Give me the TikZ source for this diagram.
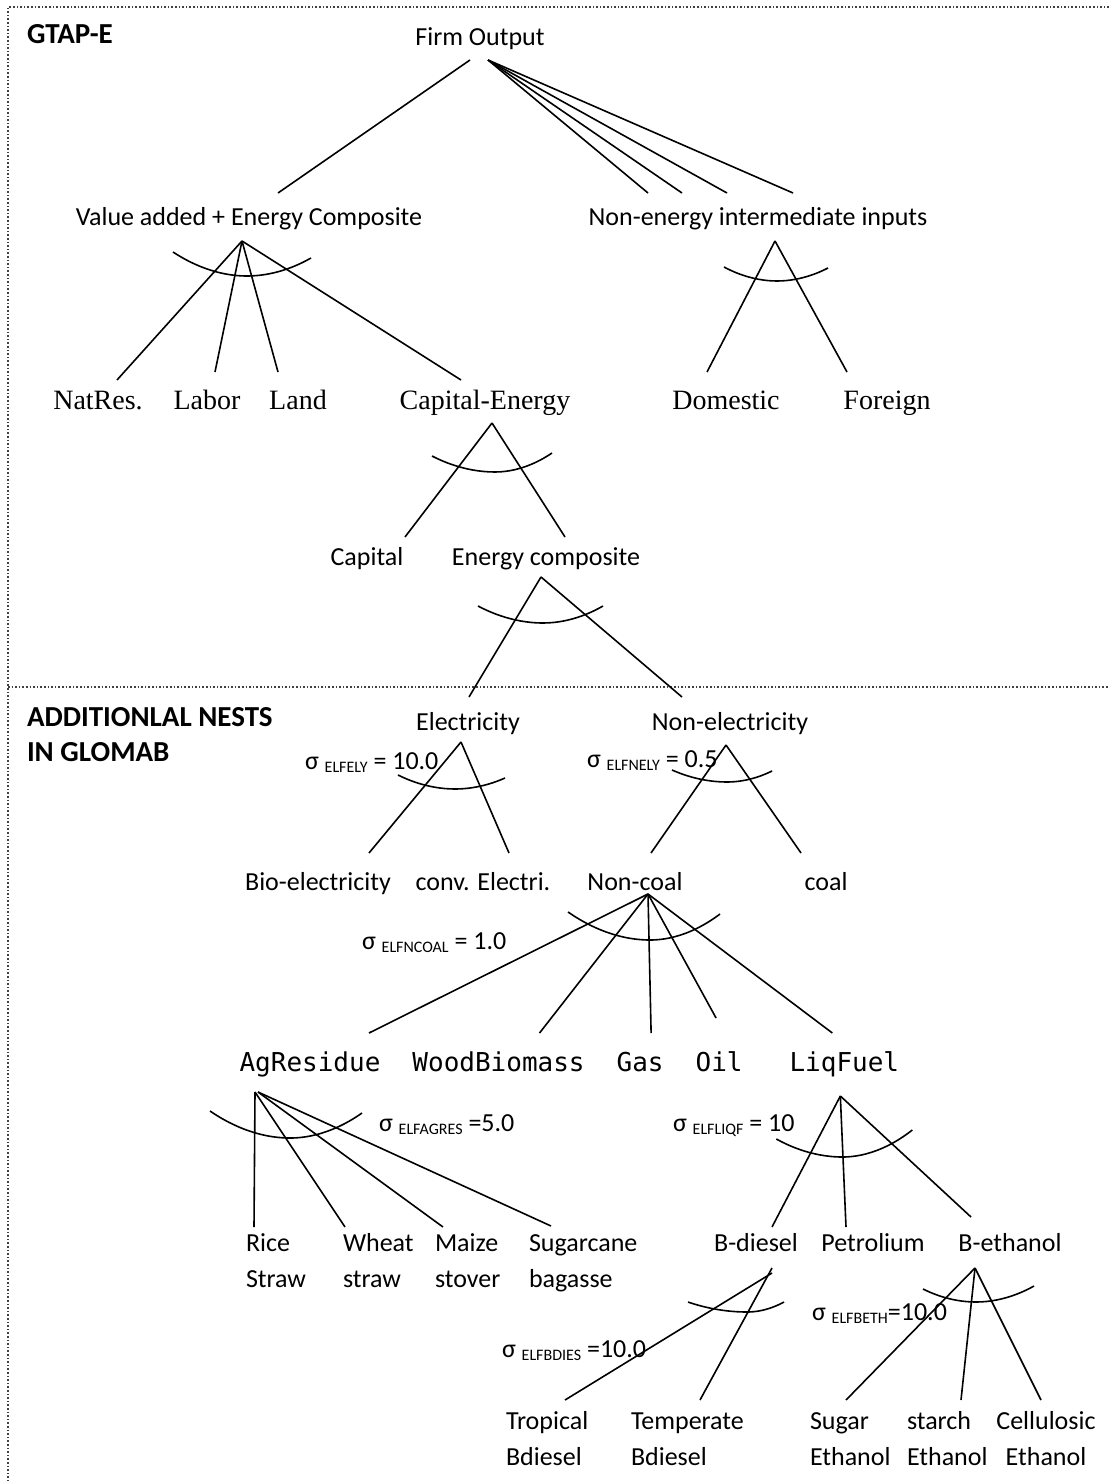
\documentclass[tikz,border=0pt]{standalone}
\usepackage{fontspec}
\setmainfont{Carlito}
\newfontfamily\timesfont{Liberation Serif}
\newfontfamily\codefont{DejaVu Sans Mono}
\usepackage{tikz}
\usetikzlibrary{calc,positioning}
\newcommand\elsub[1]{\raisebox{-0.3ex}{\fontsize{8}{8}\selectfont #1}}

\begin{document}
\begin{tikzpicture}[x=0.5pt, y=-0.5pt,
  every node/.style={inner sep=0pt, outer sep=0pt},
  lbl/.style={anchor=base, font=\fontsize{13}{18}\selectfont},
  pair/.style={anchor=base west, align=left, font=\fontsize{13}{18}\selectfont},
  tms/.style={anchor=base, font=\timesfont\fontsize{14}{16}\selectfont},
  code/.style={anchor=base, font=\codefont\fontsize{13}{16}\selectfont},
  head/.style={anchor=base west, align=left, font=\bfseries\fontsize{14.5}{17.5}\selectfont},
  sig/.style={anchor=base west, font=\fontsize{13}{16}\selectfont},
  ln/.style={line width=0.8pt},
  frame/.style={densely dotted, line width=0.8pt, black!75}]

  \useasboundingbox (0,0) rectangle (1109,1481);
  \draw[frame] (1109,7) -- (8,7) -- (8,1481);
  \draw[frame] (8,687) -- (1109,687);

  % GTAP-E nest
  \node[head] (gtap) at (27,44) {GTAP-E};
  \node[lbl] (firm) at (480,46) {Firm Output};
  \node[lbl] (vae) at (249,226) {Value added + Energy Composite};
  \node[lbl] (nei) at (758,226) {Non-energy intermediate inputs};
  \node[tms] (natres) at (98,409) {NatRes.};
  \node[tms] (labor) at (207,409) {Labor};
  \node[tms] (land) at (298,409) {Land};
  \node[tms] (capen) at (485,409) {Capital-Energy};
  \node[tms] (dom) at (726,409) {Domestic};
  \node[tms] (forgn) at (887,409) {Foreign};
  \node[lbl] (capital) at (367,565) {Capital};
  \node[lbl] (encomp) at (546,565) {Energy composite};

  % nests added in GLOMAB (two-line nodes sit on their last line)
  \node[head] (glomab) at (27,761) {ADDITIONLAL NESTS\\IN GLOMAB};
  \node[lbl] (elec) at (468,730) {Electricity};
  \node[lbl] (nonelec) at (730,730) {Non-electricity};
  \node[lbl] (bioel) at (318,890) {Bio-electricity};
  \node[lbl] (convel) at (483,890) {conv. Electri.};
  \node[lbl] (noncoal) at (635,890) {Non-coal};
  \node[lbl] (coal) at (826,890) {coal};
  \node[code] (agres) at (310,1071) {AgResidue};
  \node[code, base right=16pt of agres] (wood) {WoodBiomass};
  \node[code, base right=16pt of wood] (gas) {Gas};
  \node[code, base right=16pt of gas] (oil) {Oil};
  \node[code, base right=23.5pt of oil] (liqf) {LiqFuel};
  \node[pair] (rice) at (246,1287) {Rice\\Straw};
  \node[pair] (wheat) at (343,1287) {Wheat\\straw};
  \node[pair] (maize) at (435,1287) {Maize\\stover};
  \node[pair] (sugcane) at (529,1287) {Sugarcane\\bagasse};
  \node[lbl] (bdiesel) at (756,1251) {B-diesel};
  \node[lbl] (petrol) at (873,1251) {Petrolium};
  \node[lbl] (bethanol) at (1010,1251) {B-ethanol};
  \node[pair] (tropic) at (506,1465) {Tropical\\Bdiesel};
  \node[pair] (temper) at (631,1465) {Temperate\\Bdiesel};
  \node[pair] (sugar) at (810,1465) {Sugar\\Ethanol};
  \node[pair] (starch) at (907,1465) {starch\\Ethanol};
  \node[pair, align=center, anchor=base] (cellu) at (1046,1465) {Cellulosic\\Ethanol};

  % elasticities
  \node[sig] (s-ely) at (305,769) {σ \elsub{ELFELY} = 10.0};
  \node[sig] (s-nely) at (587,767) {σ \elsub{ELFNELY} = 0.5};
  \node[sig] (s-ncoal) at (362,949) {σ \elsub{ELFNCOAL} = 1.0};
  \node[sig] (s-agres) at (379,1131) {σ \elsub{ELFAGRES} =5.0};
  \node[sig] (s-liqf) at (673,1131) {σ \elsub{ELFLIQF} = 10};
  \node[sig] (s-bdies) at (502,1357) {σ \elsub{ELFBDIES} =10.0};
  \node[sig] (s-beth) at (812,1320) {σ \elsub{ELFBETH}=10.0};

  % firm output
  \draw[ln] ($(firm.base)+(-10,14)$) -- ($(vae.base)+(29,-33)$);
  \foreach \dx in {-110,-76,-31,35}
    \draw[ln] ($(firm.base)+(8,14)$) -- ($(nei.base)+(\dx,-33)$);
  % value added + energy
  \draw[ln] ($(vae.base)+(-7,15)$) -- ($(natres.base)+(19,-29)$);
  \draw[ln] ($(vae.base)+(-7,15)$) -- ($(labor.base)+(8,-37)$);
  \draw[ln] ($(vae.base)+(-7,15)$) -- ($(land.base)+(-20,-37)$);
  \draw[ln] ($(vae.base)+(-7,15)$) -- ($(capen.base)+(-24,-29)$);
  \draw[ln] ($(vae.base)+(-76,26)$) parabola bend ($(vae.base)+(-2,50)$) ($(vae.base)+(62,32)$);
  % non-energy
  \draw[ln] ($(nei.base)+(17,15)$) -- ($(dom.base)+(-19,-37)$);
  \draw[ln] ($(nei.base)+(17,15)$) -- ($(forgn.base)+(-40,-37)$);
  \draw[ln] ($(nei.base)+(-34,41)$) parabola bend ($(nei.base)+(19,55)$) ($(nei.base)+(70,42)$);
  % capital-energy
  \draw[ln] ($(capen.base)+(7,14)$) -- ($(capital.base)+(38,-28)$);
  \draw[ln] ($(capen.base)+(7,14)$) -- ($(encomp.base)+(19,-28)$);
  \draw[ln] ($(capen.base)+(-53,47)$) parabola bend ($(capen.base)+(10,63)$) ($(capen.base)+(67,44)$);
  % energy composite
  \draw[ln] ($(encomp.base)+(-5,12)$) -- ($(elec.base)+(1,-33)$);
  \draw[ln] ($(encomp.base)+(-5,12)$) -- ($(nonelec.base)+(-48,-33)$);
  \draw[ln] ($(encomp.base)+(-68,41)$) parabola bend ($(encomp.base)+(-3,58)$) ($(encomp.base)+(57,41)$);
  % electricity
  \draw[ln] ($(elec.base)+(-7,12)$) -- ($(bioel.base)+(51,-37)$);
  \draw[ln] ($(elec.base)+(-7,12)$) -- ($(convel.base)+(26,-37)$);
  \draw[ln] ($(elec.base)+(-70,45)$) parabola bend ($(elec.base)+(-13,59)$) ($(elec.base)+(37,48)$);
  % non-electricity
  \draw[ln] ($(nonelec.base)+(-4,15)$) -- ($(noncoal.base)+(16,-37)$);
  \draw[ln] ($(nonelec.base)+(-4,15)$) -- ($(coal.base)+(-25,-37)$);
  \draw[ln] ($(nonelec.base)+(-58,40)$) parabola bend ($(nonelec.base)+(-3,52)$) ($(nonelec.base)+(42,41)$);
  % non-coal
  \draw[ln] ($(noncoal.base)+(13,4)$) -- ($(agres.base)+(59,-38)$);
  \draw[ln] ($(noncoal.base)+(13,4)$) -- ($(wood.base)+(41,-38)$);
  \draw[ln] ($(noncoal.base)+(13,4)$) -- ($(gas.base)+(11,-38)$);
  \draw[ln] ($(noncoal.base)+(13,4)$) -- ($(oil.base)+(-3,-53)$);
  \draw[ln] ($(noncoal.base)+(13,4)$) -- ($(liqf.base)+(-12,-38)$);
  \draw[ln] ($(noncoal.base)+(-67,22)$) parabola bend ($(noncoal.base)+(15,50)$) ($(noncoal.base)+(85,24)$);
  % ag residues
  \draw[ln] ($(agres.base)+(-55,21)$) -- ($(rice.base west)+(8,-60)$);
  \draw[ln] ($(agres.base)+(-55,21)$) -- ($(wheat.base west)+(2,-60)$);
  \draw[ln] ($(agres.base)+(-52,21)$) -- ($(maize.base west)+(8,-60)$);
  \draw[ln] ($(agres.base)+(-52,21)$) -- ($(sugcane.base west)+(22,-61)$);
  \draw[ln] ($(agres.base)+(-100,40)$) parabola bend ($(agres.base)+(-20,67)$) ($(agres.base)+(52,42)$);
  % liquid fuels
  \draw[ln] ($(liqf.base)+(-4,25)$) -- ($(bdiesel.base)+(16,-24)$);
  \draw[ln] ($(liqf.base)+(-4,25)$) -- ($(petrol.base)+(-27,-24)$);
  \draw[ln] ($(liqf.base)+(-4,25)$) -- ($(bethanol.base)+(-39,-34)$);
  \draw[ln] ($(liqf.base)+(-68,68)$) parabola bend ($(liqf.base)+(-2,86)$) ($(liqf.base)+(68,59)$);
  % bio-diesel
  \draw[ln] ($(bdiesel.base)+(16,22)$) -- ($(tropic.base west)+(59,-65)$);
  \draw[ln] ($(bdiesel.base)+(16,17)$) -- ($(temper.base west)+(69,-65)$);
  \draw[ln] ($(bdiesel.base)+(-68,51)$) parabola bend ($(bdiesel.base)+(-9,61)$) ($(bdiesel.base)+(28,51)$);
  % bio-ethanol
  \draw[ln] ($(bethanol.base)+(-35,17)$) -- ($(sugar.base west)+(36,-65)$);
  \draw[ln] ($(bethanol.base)+(-35,17)$) -- ($(starch.base west)+(54,-65)$);
  \draw[ln] ($(bethanol.base)+(-35,17)$) -- ($(cellu.base)+(-5,-65)$);
  \draw[ln] ($(bethanol.base)+(-87,38)$) parabola bend ($(bethanol.base)+(-34,51)$) ($(bethanol.base)+(24,35)$);
\end{tikzpicture}
\end{document}
